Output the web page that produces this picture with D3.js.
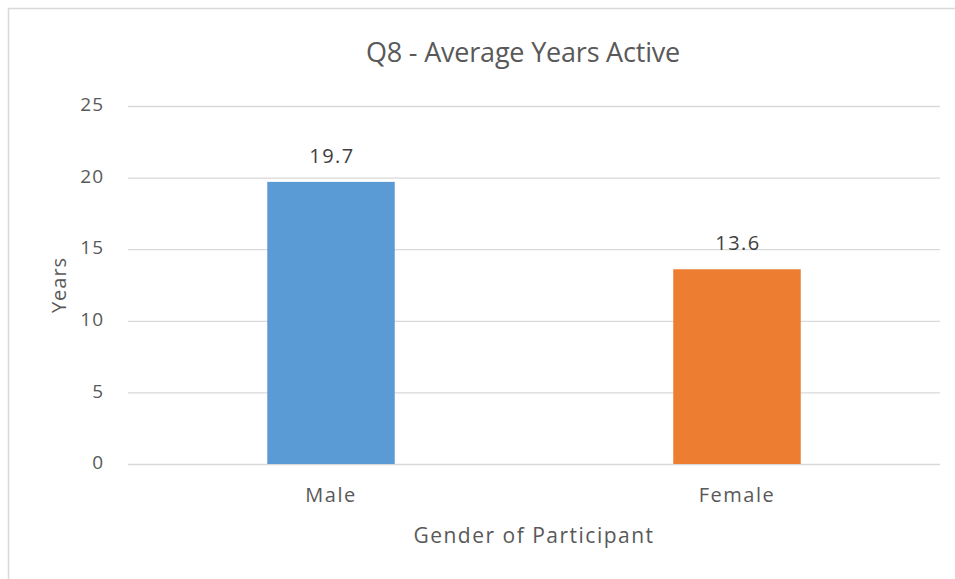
<!DOCTYPE html>
<html>
<head>
<meta charset="utf-8">
<script src="https://cdn.jsdelivr.net/npm/d3@7"></script>
<style>
  body { margin: 0; background: #fff; }
  svg { display: block; font-family: "Open Sans", "Noto Sans", sans-serif; }
  .grid .domain { display: none; }
  .axis text { fill: #595959; }
</style>
</head>
<body>
<svg id="chart" width="955" height="579"></svg>
<script>
// chart values
const categories = ['Male', 'Female'];
const values = [19.7, 13.6];
const colors = ['#5b9bd5', '#ed7d31'];
const yTicks = [0, 5, 10, 15, 20, 25];

const svg = d3.select('#chart');
const margin = { top: 106, right: 15, bottom: 115, left: 128 };
const width = 955 - margin.left - margin.right;
const height = 579 - margin.top - margin.bottom;

// chart border
svg.append('rect')
    .attr('x', 8.5).attr('y', 8.5)
    .attr('width', 960).attr('height', 600)
    .attr('fill', 'none')
    .attr('stroke', '#d9d9d9')
    .attr('stroke-width', 1.5);

const g = svg.append('g').attr('transform', `translate(${margin.left},${margin.top})`);

const x = d3.scaleBand().domain(categories).range([0, width]).paddingInner(0.686).paddingOuter(0.343);
const y = d3.scaleLinear().domain([0, 25]).range([height, 0]);

// gridlines
g.append('g')
    .attr('class', 'grid')
    .call(d3.axisLeft(y).tickValues(yTicks).tickSize(-width).tickFormat(''))
    .call(s => s.selectAll('.tick line').attr('stroke', '#d9d9d9').attr('stroke-width', 1.3));

// y tick labels
g.append('g')
    .attr('class', 'axis')
    .call(d3.axisLeft(y).tickValues(yTicks).tickSize(0).tickPadding(24))
    .call(s => s.select('.domain').remove())
    .call(s => s.selectAll('text')
        .attr('font-size', 19)
        .attr('letter-spacing', 1)
        .attr('dy', '0.25em')
        .attr('font-family', '"Open Sans", sans-serif'));

// bars
g.selectAll('.bar')
    .data(categories)
    .enter().append('rect')
    .attr('class', 'bar')
    .attr('x', d => x(d))
    .attr('width', x.bandwidth())
    .attr('y', (d, i) => y(values[i]))
    .attr('height', (d, i) => height - y(values[i]))
    .attr('fill', (d, i) => colors[i]);

// value labels
g.selectAll('.val')
    .data(categories)
    .enter().append('text')
    .attr('class', 'val')
    .attr('x', d => x(d) + x.bandwidth() / 2 + 1)
    .attr('y', (d, i) => y(values[i]) - 19)
    .attr('text-anchor', 'middle')
    .attr('font-size', 20)
    .attr('letter-spacing', 1.5)
    .attr('fill', '#404040')
    .text((d, i) => values[i].toFixed(1));

// x axis labels
g.append('g')
    .attr('class', 'axis')
    .attr('transform', `translate(0,${height})`)
    .call(d3.axisBottom(x).tickSize(0).tickPadding(24))
    .call(s => s.select('.domain').remove())
    .call(s => s.selectAll('text')
        .attr('font-size', 20)
        .attr('letter-spacing', 1.5)
        .attr('font-family', '"Open Sans", sans-serif'));

// title
svg.append('text')
    .attr('x', 523).attr('y', 62)
    .attr('text-anchor', 'middle')
    .attr('font-size', 27)
    .attr('letter-spacing', -0.2)
    .attr('fill', '#595959')
    .text('Q8 - Average Years Active');

// axis titles
svg.append('text')
    .attr('x', 534).attr('y', 543)
    .attr('text-anchor', 'middle')
    .attr('font-size', 21)
    .attr('letter-spacing', 1.5)
    .attr('fill', '#595959')
    .text('Gender of Participant');

svg.append('text')
    .attr('transform', 'translate(66,285) rotate(-90)')
    .attr('text-anchor', 'middle')
    .attr('font-size', 20)
    .attr('letter-spacing', 1)
    .attr('fill', '#595959')
    .text('Years');
</script>
</body>
</html>
